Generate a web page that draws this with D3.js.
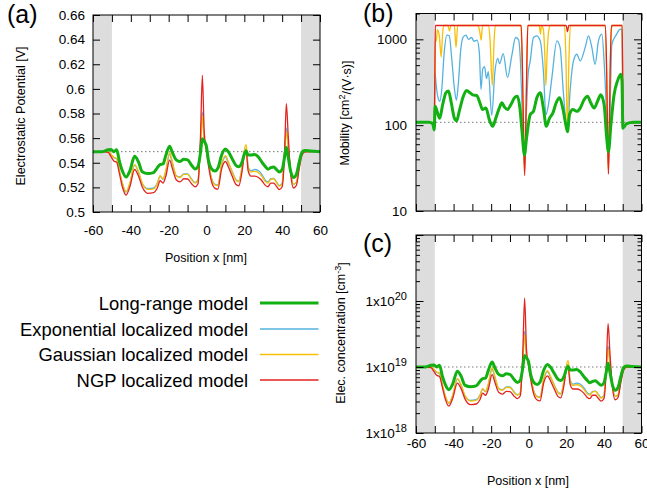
<!DOCTYPE html>
<html><head><meta charset="utf-8">
<script src="https://cdn.jsdelivr.net/npm/d3@7/dist/d3.min.js"></script>
<style>html,body{margin:0;padding:0;background:#fff;}svg{display:block;}</style>
</head><body>
<svg id="chart" width="647" height="492"></svg>
<script>
// ---------------- data ----------------
const seriesNames = ["Long-range model", "Exponential localized model", "Gaussian localized model", "NGP localized model"];
const xTicks = [-60, -40, -20, 0, 20, 40, 60];
const xMinorTicks = [-60, -50, -40, -30, -20, -10, 0, 10, 20, 30, 40, 50, 60];
const shadeRanges = [[-60, -50], [50, 60]];

// (a) electrostatic potential [V]
const potTicks = [0.5, 0.52, 0.54, 0.56, 0.58, 0.6, 0.62, 0.64, 0.66];
const potTickLabels = ["0.5", "0.52", "0.54", "0.56", "0.58", "0.6", "0.62", "0.64", "0.66"];
const potRef = 0.549;
const posX = [-60,-55,-52,-50.5,-49,-47.5,-46,-44.5,-42.5,-40.5,-38,-36,-34,-31,-28,-26,-24.5,-23,-21.5,-19.5,-18,-16,-14,-12,-10,-8,-6,-4.5,-3.2,-2.2,-1.2,0,1,2.5,4.5,6,8,10,11.5,13.5,15.5,17,19,20,21,22,23.5,25.5,27.5,29.5,31,32.5,34,35.5,37,38.5,40,41.2,42.2,43.2,44.5,46,47.5,49,50.5,52,55,60];
const potLong = [.549,.549,.5505,.5508,.549,.5505,.541,.5335,.5285,.5335,.5452,.5408,.5327,.5312,.532,.536,.5385,.539,.546,.5535,.5482,.5423,.541,.5428,.5423,.5382,.535,.537,.548,.5595,.5575,.553,.5423,.5355,.5333,.5355,.5463,.5512,.549,.5435,.538,.5368,.5415,.547,.5495,.5462,.5462,.5468,.5445,.540,.5372,.5348,.536,.5365,.5345,.5325,.5345,.544,.5525,.5445,.533,.528,.5305,.5405,.5485,.550,.5495,.549];
const potExp = [.549,.549,.549,.5468,.544,.5432,.533,.5232,.5162,.5232,.538,.5325,.523,.519,.5195,.5235,.5292,.5265,.533,.547,.539,.5295,.5285,.531,.531,.527,.524,.526,.556,.581,.558,.552,.541,.5285,.5225,.522,.538,.5448,.540,.533,.5265,.525,.5385,.549,.5515,.537,.5335,.5345,.5335,.530,.526,.5245,.527,.5272,.5245,.5215,.5235,.547,.568,.553,.533,.5225,.524,.537,.547,.549,.549,.549];
const potGauss = [.549,.549,.549,.547,.5445,.5435,.533,.5235,.5165,.5235,.5385,.533,.5235,.5183,.5188,.523,.5295,.527,.534,.5485,.5405,.5295,.528,.5305,.5305,.5265,.5235,.526,.553,.578,.558,.552,.541,.528,.522,.5215,.539,.5458,.541,.533,.526,.5245,.539,.5505,.5548,.5365,.5325,.533,.532,.5285,.525,.5235,.5265,.527,.524,.521,.523,.547,.565,.552,.533,.5225,.524,.537,.547,.549,.549,.549];
const potNGP = [.549,.549,.5485,.545,.5415,.5405,.531,.5205,.5138,.5205,.5345,.5295,.5205,.5152,.5157,.5195,.5254,.5235,.529,.5422,.535,.5262,.5245,.527,.5268,.5232,.5205,.523,.56,.611,.565,.549,.538,.5255,.5192,.5185,.535,.541,.5368,.5295,.5225,.5212,.535,.5465,.549,.5335,.5292,.5292,.528,.525,.5218,.5205,.5235,.5235,.5208,.5182,.5205,.545,.588,.562,.531,.5195,.5215,.535,.546,.5488,.549,.549];

// (c) electron concentration, in units of 1e18 cm^-3 (same positions posX)
const concUnit = 1e18;
const concRef = 10;
const concLong = [10,10,10.6,10.7,10,10.6,7.34,5.49,4.52,5.49,8.63,7.28,5.32,5.02,5.18,6.05,6.66,6.79,8.9,11.9,9.7,7.72,7.34,7.87,7.72,6.58,5.82,6.29,9.62,15.0,13.9,11.7,7.72,5.93,5.45,5.93,9.0,10.9,10,8.08,6.54,6.24,7.48,9.26,10.2,8.97,8.97,9.18,8.4,7.06,6.33,5.78,6.05,6.17,5.71,5.28,5.71,8.24,11.5,8.4,5.38,4.44,4.89,7.2,9.8,10.4,10.2,10];
const concExp = [10,10,10,9.2,8.24,8.0,5.38,3.68,2.81,3.68,6.54,5.28,3.66,3.13,3.19,3.73,4.64,4.19,5.38,9.26,6.79,4.70,4.52,4.98,4.98,4.27,3.80,4.11,13.1,34.5,14.2,11.2,7.34,4.52,3.59,3.52,6.54,8.5,7.06,5.38,4.19,3.95,6.66,10,11.0,6.29,5.49,5.71,5.49,4.79,4.11,3.87,4.27,4.30,3.87,3.45,3.73,9.26,20.9,11.7,5.38,3.59,3.80,6.29,9.26,10,10,10];
const concGauss = [10,10,10,9.26,8.4,8.1,5.38,3.73,2.85,3.73,6.66,5.38,3.73,3.05,3.11,3.66,4.70,4.27,5.6,9.8,7.2,4.70,4.44,4.89,4.89,4.19,3.73,4.11,11.7,30.7,14.2,11.2,7.34,4.44,3.52,3.45,6.79,8.83,7.34,5.38,4.11,3.87,6.79,10.6,12.5,6.17,5.28,5.38,5.18,4.52,3.95,3.73,4.19,4.27,3.80,3.38,3.66,9.26,18.6,11.2,5.38,3.59,3.80,6.29,9.26,10,10,10];
const concNGP = [10,10,9.8,8.57,7.5,7.2,4.98,3.32,2.56,3.32,5.71,4.70,3.32,2.70,2.75,3.19,4.01,3.73,4.61,7.69,5.82,4.14,3.87,4.27,4.24,3.68,3.32,3.66,15.3,110,18.6,10,6.54,4.03,3.16,3.07,5.82,7.34,6.24,4.70,3.59,3.41,5.82,9.08,10,5.49,4.64,4.64,4.44,3.95,3.49,3.32,3.73,3.73,3.36,3.04,3.32,8.57,45.3,16.5,4.98,3.19,3.45,5.82,8.9,10,10,10];
const concTicks = [1e18, 1e19, 1e20, 1e21];
const concTickExp = ["18", "19", "20", ""];
const concMinor = [2e18,3e18,4e18,5e18,6e18,7e18,8e18,9e18,2e19,3e19,4e19,5e19,6e19,7e19,8e19,9e19,2e20,3e20,4e20,5e20,6e20,7e20,8e20,9e20];

// (b) mobility [cm^2/(V s)]
const mobTicks = [10, 100, 1000];
const mobMinor = [20,30,40,50,60,70,80,90,200,300,400,500,600,700,800,900,2000];
const mobRef = 108;
const mobLongX = [-60,-53,-51.1,-50.3,-49.8,-48.6,-47.4,-45.8,-44.1,-42.7,-41.2,-39.6,-38.4,-37,-34.8,-33.1,-31.3,-29.5,-27.7,-26,-24.6,-22.8,-21,-19.2,-17.5,-15.7,-14.3,-12.9,-11.3,-9.5,-7.4,-6,-4.7,-3.6,-2.3,-1.2,0.8,2.5,4.3,6.1,7.9,9.3,11.1,12.8,14.6,16.4,18.1,19.9,20.6,21.7,23.5,25.6,27.4,29.5,31.3,33,34.8,36.6,38.3,40.1,41.5,42.4,43.7,45.4,47.2,49,49.6,50.1,50.6,52.2,55.7,60];
const mobLong = [108,108,104,88,166,140,120,174,238,250,181,121,112,145,217,254,238,224,222,182,152,158,116,97,121,158,182,162,152,174,211,217,158,85,45,70,133,145,208,238,152,97,121,138,182,208,158,97,84,133,152,145,158,199,217,182,158,190,226,174,70,49,100,226,326,391,330,92,95,104,108,108];
const mobExpX = [-60,-53,-51,-50.3,-49.9,-49.3,-48.3,-47.3,-46.3,-45,-43.5,-42.3,-41,-39.5,-38.5,-37.5,-36.2,-35,-33.5,-32,-30.5,-29,-27.5,-26.3,-25.4,-24.5,-23.5,-22.5,-21.5,-19.7,-18,-16.5,-15.5,-13.6,-11.3,-9,-7,-5.5,-4.5,-3.5,-2.2,-1.2,-0.3,0.8,2.5,4.3,6.1,7.9,9.1,10.5,12.3,15,16.7,18.5,20.6,22,23.8,25.6,27.4,30,31.8,33.6,35.3,37.1,38.9,40.1,41.3,42.4,43.3,44.2,46.8,48.6,49.6,50,50.3,51,53,60];
const mobExp = [108,108,104,95,410,300,210,190,260,700,1120,1100,600,260,195,300,750,1050,1120,1000,1050,950,980,700,260,450,480,350,420,130,420,600,520,680,360,650,1050,1000,600,150,33,150,400,560,1050,1100,960,390,132,174,356,960,800,228,84,249,560,670,560,800,1100,800,512,960,1150,560,150,33,150,877,1150,1316,1300,300,96,100,107,108];
const mobGaussX = [-60,-53,-51,-50.3,-50,-49.7,-49.2,-48.6,-47.6,-46.6,-45.8,-45.2,-43,-42.2,-41.4,-39.6,-38.7,-37.8,-27,-26,-25.3,-24.6,-21.5,-20.6,-19.4,-18.4,-17.8,-4.2,-3.4,-2.7,-2.2,-1.7,-1.1,-0.5,5.6,6.2,6.8,7.8,8.5,9.1,9.8,10.6,11.5,19,19.7,20.6,21.4,22.2,40.5,41.4,42,42.4,42.8,43.3,43.9,44.8,49.7,50,50.3,51,53,60];
const mobGauss = [108,108,104,96,300,1000,950,1300,1100,620,1200,1450,1450,1250,1450,1450,800,1450,1450,1200,980,1450,1450,1000,290,1000,1450,1450,400,70,28,70,400,1450,1450,1150,1450,1300,700,290,700,1250,1450,1450,700,88,600,1450,1450,400,70,28,70,400,1300,1450,1450,300,96,100,107,108];
const mobNGPX = [-60,-53,-51,-50.3,-50,-49.7,-4,-3.3,-2.7,-2.2,-1.7,-1.1,-0.5,19.9,20.6,21.3,40.8,41.5,42,42.4,42.8,43.3,44,49.7,50,50.3,51,53,60];
const mobNGP = [108,108,104,96,300,1450,1450,400,70,26,70,400,1450,1450,1230,1450,1450,400,70,27,70,400,1450,1450,300,96,100,107,108];

// ---------------- drawing ----------------
const FONT = '"Liberation Sans", Arial, Helvetica, sans-serif';
const svg = d3.select('#chart').attr('font-family', FONT);
const colors = ['#12b012', '#55b2df', '#f7bf06', '#e2231f'];
const widths = [3, 1.3, 1.3, 1.3];
const drawOrder = [1, 2, 3, 0];

function styleAxis(g, fs) {
  g.select('.domain').remove();
  g.selectAll('.tick line').attr('stroke', '#000').attr('stroke-width', 1);
  g.selectAll('.tick text').attr('fill', '#000').attr('font-size', fs || 13.5).attr('font-family', FONT);
  g.attr('font-family', FONT);
}

function panel(id, xs, ys, xArrs, yArrs, refVal) {
  const [x0, x1] = xs.range(), [y1, y0] = ys.range();
  const g = svg.append('g');
  svg.append('clipPath').attr('id', id).append('rect')
    .attr('x', x0).attr('y', y0).attr('width', x1 - x0).attr('height', y1 - y0);
  shadeRanges.forEach(r => g.append('rect').attr('x', xs(r[0])).attr('y', y0)
    .attr('width', xs(r[1]) - xs(r[0])).attr('height', y1 - y0).attr('fill', '#dddddd'));
  g.append('line').attr('x1', x0).attr('x2', x1).attr('y1', ys(refVal)).attr('y2', ys(refVal))
    .attr('stroke', '#7a7a7a').attr('stroke-width', 1).attr('stroke-dasharray', '1.5,2.5');
  const cg = g.append('g').attr('clip-path', `url(#${id})`);
  drawOrder.forEach(k => {
    const xa = xArrs[k], ya = yArrs[k];
    const line = d3.line().x((d, i) => xs(xa[i])).y(d => ys(d)).curve(d3.curveMonotoneX);
    cg.append('path').attr('d', line(ya)).attr('fill', 'none')
      .attr('stroke', colors[k]).attr('stroke-width', widths[k]).attr('stroke-linejoin', 'round');
  });
  return {g, x0, x1, y0, y1};
}

// ---- panel (a)
const ax = d3.scaleLinear().domain([-60, 60]).range([93, 320]);
const ay = d3.scaleLinear().domain([0.5, 0.66]).range([212, 15]);
const pa = panel('clipA', ax, ay, [posX, posX, posX, posX], [potLong, potExp, potGauss, potNGP], potRef);
svg.append('g').attr('transform', 'translate(93,0)')
  .call(d3.axisLeft(ay).tickValues(potTicks).tickSize(-7).tickPadding(8).tickFormat((d, i) => potTickLabels[i]))
  .call(g => styleAxis(g));
svg.append('g').attr('transform', 'translate(320,0)')
  .call(d3.axisRight(ay).tickValues(potTicks).tickSize(-7).tickFormat(''))
  .call(g => styleAxis(g));
svg.append('g').attr('transform', 'translate(0,212)')
  .call(d3.axisBottom(ax).tickValues(xMinorTicks).tickSize(-7).tickPadding(13)
    .tickFormat(d => xTicks.includes(d) ? String(d) : ''))
  .call(g => styleAxis(g));
svg.append('g').attr('transform', 'translate(0,15)')
  .call(d3.axisTop(ax).tickValues(xMinorTicks).tickSize(-7).tickFormat(''))
  .call(g => styleAxis(g));
svg.append('rect').attr('x', 93).attr('y', 15).attr('width', 227).attr('height', 197)
  .attr('fill', 'none').attr('stroke', '#000').attr('stroke-width', 1);

// ---- panel (b)
const bx = d3.scaleLinear().domain([-60, 60]).range([416, 641.5]);
const by = d3.scaleLog().domain([10, 2000]).range([211, 13.5]);
panel('clipB', bx, by, [mobLongX, mobExpX, mobGaussX, mobNGPX], [mobLong, mobExp, mobGauss, mobNGP], mobRef);
svg.append('g').attr('transform', 'translate(416,0)')
  .call(d3.axisLeft(by).tickValues(mobTicks).tickSize(-7.5).tickPadding(9).tickFormat(d => String(d)))
  .call(g => styleAxis(g));
svg.append('g').attr('transform', 'translate(416,0)')
  .call(d3.axisLeft(by).tickValues(mobMinor).tickSize(-4).tickFormat(''))
  .call(g => styleAxis(g));
svg.append('g').attr('transform', 'translate(641.5,0)')
  .call(d3.axisRight(by).tickValues(mobTicks).tickSize(-7.5).tickFormat(''))
  .call(g => styleAxis(g));
svg.append('g').attr('transform', 'translate(641.5,0)')
  .call(d3.axisRight(by).tickValues(mobMinor).tickSize(-4).tickFormat(''))
  .call(g => styleAxis(g));
svg.append('g').attr('transform', 'translate(0,211)')
  .call(d3.axisBottom(bx).tickValues(xMinorTicks).tickSize(-7).tickFormat(''))
  .call(g => styleAxis(g));
svg.append('g').attr('transform', 'translate(0,13.5)')
  .call(d3.axisTop(bx).tickValues(xMinorTicks).tickSize(-7).tickFormat(''))
  .call(g => styleAxis(g));
svg.append('rect').attr('x', 416).attr('y', 13.5).attr('width', 225.5).attr('height', 197.5)
  .attr('fill', 'none').attr('stroke', '#000').attr('stroke-width', 1);

// ---- panel (c)
const cx = d3.scaleLinear().domain([-60, 60]).range([416, 641.5]);
const cy = d3.scaleLog().domain([1e18, 1e21]).range([433, 235]);
const toConc = a => a.map(v => v * concUnit);
panel('clipC', cx, cy, [posX, posX, posX, posX], [toConc(concLong), toConc(concExp), toConc(concGauss), toConc(concNGP)], concRef * concUnit);
svg.append('g').attr('transform', 'translate(416,0)')
  .call(d3.axisLeft(cy).tickValues(concTicks).tickSize(-7.5).tickPadding(9).tickFormat(''))
  .call(g => styleAxis(g))
  .call(g => g.selectAll('.tick text').each(function (d, i) {
    const t = d3.select(this);
    if (!concTickExp[i]) return;
    t.append('tspan').text('1x10');
    t.append('tspan').attr('dy', '-0.5em').attr('font-size', 11).text(concTickExp[i]);
  }));
svg.append('g').attr('transform', 'translate(416,0)')
  .call(d3.axisLeft(cy).tickValues(concMinor).tickSize(-4).tickFormat(''))
  .call(g => styleAxis(g));
svg.append('g').attr('transform', 'translate(641.5,0)')
  .call(d3.axisRight(cy).tickValues(concTicks).tickSize(-7.5).tickFormat(''))
  .call(g => styleAxis(g));
svg.append('g').attr('transform', 'translate(641.5,0)')
  .call(d3.axisRight(cy).tickValues(concMinor).tickSize(-4).tickFormat(''))
  .call(g => styleAxis(g));
svg.append('g').attr('transform', 'translate(0,433)')
  .call(d3.axisBottom(cx).tickValues(xMinorTicks).tickSize(-7).tickPadding(5)
    .tickFormat(d => xTicks.includes(d) ? String(d) : ''))
  .call(g => styleAxis(g));
svg.append('g').attr('transform', 'translate(0,235)')
  .call(d3.axisTop(cx).tickValues(xMinorTicks).tickSize(-7).tickFormat(''))
  .call(g => styleAxis(g));
svg.append('rect').attr('x', 416).attr('y', 235).attr('width', 225.5).attr('height', 198)
  .attr('fill', 'none').attr('stroke', '#000').attr('stroke-width', 1);

// ---- titles and labels
const T = (x, y, s, fs, anchor) => svg.append('text').attr('x', x).attr('y', y).attr('font-size', fs)
  .attr('text-anchor', anchor || 'middle').attr('fill', '#000').text(s);
T(7, 23, '(a)', 25, 'start');
T(363, 22, '(b)', 25, 'start');
T(363, 252, '(c)', 25, 'start');
T(206, 262, 'Position x [nm]', 12.5);
T(528, 485, 'Position x [nm]', 12.5);
svg.append('text').attr('transform', 'translate(25,116) rotate(-90)').attr('text-anchor', 'middle')
  .attr('font-size', 12.5).attr('fill', '#000').text('Electrostatic Potential [V]');
const mt = svg.append('text').attr('transform', 'translate(349,113) rotate(-90)').attr('text-anchor', 'middle')
  .attr('font-size', 12.5).attr('fill', '#000');
mt.append('tspan').text('Mobility [cm');
mt.append('tspan').attr('dy', '-0.45em').attr('font-size', 9).text('2');
mt.append('tspan').attr('dy', '0.45em').text('/(V·s)]');
const et = svg.append('text').attr('transform', 'translate(345,333) rotate(-90)').attr('text-anchor', 'middle')
  .attr('font-size', 12.5).attr('fill', '#000');
et.append('tspan').text('Elec. concentration [cm');
et.append('tspan').attr('dy', '-0.45em').attr('font-size', 9).text('-3');
et.append('tspan').attr('dy', '0.45em').text(']');

// ---- legend
const legendY = [303, 329, 354.5, 380];
seriesNames.forEach((n, k) => {
  T(248, legendY[k] + 6.5, n, 18.4, 'end');
  svg.append('line').attr('x1', 260).attr('x2', 318.5).attr('y1', legendY[k]).attr('y2', legendY[k])
    .attr('stroke', colors[k]).attr('stroke-width', k === 0 ? 3 : 1.5);
});
</script>
</body></html>
